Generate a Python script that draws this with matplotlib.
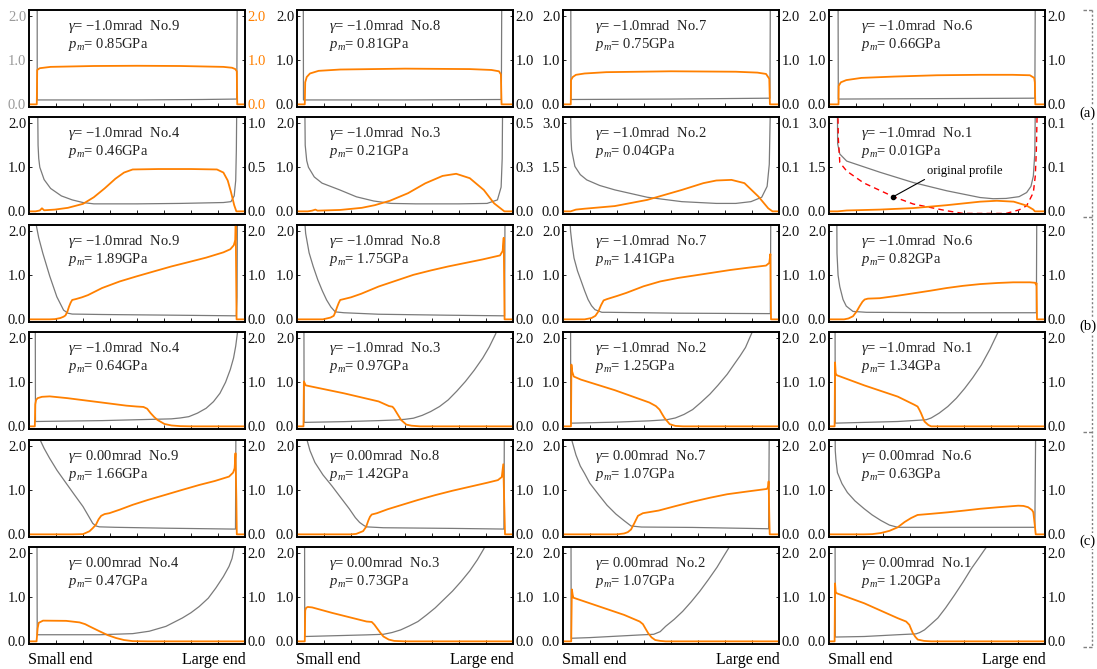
import matplotlib
matplotlib.use('Agg')
import matplotlib.pyplot as plt

plt.rcParams.update({
    'font.family': 'Liberation Serif',
    'mathtext.fontset': 'custom',
    'mathtext.rm': 'Liberation Serif',
    'mathtext.it': 'Liberation Serif:italic',
    'font.size': 10,
    'axes.linewidth': 1.2,
})
FILM = '#7a7a7a'; PRESS = '#ff8000'; ORIG = '#ff0000'

# ---- panel annotations ----
GAMMA = ['−1.0', '−1.0', '−1.0', '−1.0', '0.00', '0.00']
CASE_NO = [[9, 8, 7, 6], [4, 3, 2, 1], [9, 8, 7, 6], [4, 3, 2, 1], [9, 8, 7, 6], [4, 3, 2, 1]]
PM = [[0.85, 0.81, 0.75, 0.66],
      [0.46, 0.21, 0.04, 0.01],
      [1.89, 1.75, 1.41, 0.82],
      [0.64, 0.97, 1.25, 1.34],
      [1.66, 1.42, 1.07, 0.63],
      [0.47, 0.73, 1.07, 1.20]]

# axis maxima (left: film thickness, right: pressure)
LEFT_MAX = [[2, 2, 2, 2], [2, 2, 3, 3], [2, 2, 2, 2], [2, 2, 2, 2], [2, 2, 2, 2], [2, 2, 2, 2]]
RIGHT_MAX = [[2, 2, 2, 2], [1, 0.5, 0.1, 0.1], [2, 2, 2, 2], [2, 2, 2, 2], [2, 2, 2, 2], [2, 2, 2, 2]]
TICKS = {2: ([0, 1, 2], ['0.0', '1.0', '2.0']),
         3: ([0, 1.5, 3], ['0.0', '1.5', '3.0']),
         1: ([0, 0.5, 1], ['0.0', '0.5', '1.0']),
         0.5: ([0, 0.25, 0.5], ['0.0', '0.3', '0.5']),
         0.1: ([0, 0.05, 0.1], ['0.0', '0.1', '0.1'])}

# ---- film thickness profiles (x along contact, small end -> large end) ----
film_r1 = [
    [(0.038, 2.5), (0.038, 0.1), (0.2, 0.1), (0.5, 0.1), (0.8, 0.11), (0.962, 0.12), (0.964, 2.5)],
    [(0.029, 2.5), (0.03, 0.1), (0.5, 0.1), (0.946, 0.11), (0.948, 2.5)],
    [(0.036, 2.5), (0.037, 0.11), (0.5, 0.12), (0.958, 0.14), (0.96, 2.5)],
    [(0.042, 2.5), (0.043, 0.12), (0.5, 0.13), (0.953, 0.14), (0.955, 2.5)],
]
film_r2 = [
    [(0.04, 2.5), (0.042, 1.5), (0.045, 1.2), (0.05, 1.0), (0.07, 0.72), (0.1, 0.52), (0.15, 0.35),
     (0.2, 0.26), (0.25, 0.2), (0.3, 0.17), (0.5, 0.17), (0.7, 0.18), (0.9, 0.2), (0.935, 0.22),
     (0.95, 0.35), (0.957, 0.7), (0.96, 1.4), (0.962, 2.5)],
    [(0.036, 2.5), (0.038, 1.5), (0.045, 1.15), (0.053, 1.0), (0.08, 0.78), (0.116, 0.64),
     (0.196, 0.49), (0.275, 0.33), (0.355, 0.235), (0.435, 0.18), (0.55, 0.17), (0.75, 0.17),
     (0.88, 0.18), (0.928, 0.26), (0.945, 0.55), (0.95, 1.2), (0.952, 2.5)],
    [(0.035, 3.5), (0.037, 2.5), (0.04, 2.09), (0.055, 1.53), (0.08, 1.25), (0.11, 1.07),
     (0.17, 0.88), (0.24, 0.73), (0.39, 0.48), (0.55, 0.33), (0.71, 0.27), (0.8, 0.27),
     (0.87, 0.33), (0.92, 0.48), (0.945, 0.85), (0.955, 1.6), (0.96, 3.5)],
    [(0.039, 3.5), (0.04, 2.3), (0.05, 1.95), (0.082, 1.71), (0.236, 1.33), (0.39, 0.98),
     (0.545, 0.70), (0.70, 0.47), (0.76, 0.43), (0.82, 0.44), (0.88, 0.5), (0.915, 0.64),
     (0.935, 0.85), (0.946, 1.2), (0.953, 2.0), (0.955, 3.5)],
]
film_r3 = [
    [(0.029, 2.5), (0.035, 2.1), (0.045, 1.85), (0.064, 1.5), (0.096, 0.98), (0.129, 0.51),
     (0.16, 0.21), (0.18, 0.14), (0.2, 0.12), (0.34, 0.11), (0.66, 0.095), (0.96, 0.08),
     (0.963, 0.5), (0.965, 2.5)],
    [(0.032, 2.5), (0.04, 1.95), (0.056, 1.51), (0.075, 1.2), (0.096, 0.9), (0.117, 0.65),
     (0.137, 0.44), (0.157, 0.28), (0.177, 0.17), (0.217, 0.15), (0.378, 0.116), (0.7, 0.094),
     (0.961, 0.08), (0.963, 2.5)],
    [(0.03, 2.5), (0.035, 2.0), (0.042, 1.7), (0.051, 1.39), (0.067, 1.1), (0.084, 0.87),
     (0.1, 0.65), (0.116, 0.45), (0.132, 0.31), (0.148, 0.22), (0.18, 0.16), (0.21, 0.16),
     (0.53, 0.14), (0.96, 0.13), (0.962, 2.5)],
    [(0.036, 2.5), (0.037, 1.5), (0.042, 1.0), (0.05, 0.74), (0.065, 0.45), (0.08, 0.3),
     (0.111, 0.18), (0.173, 0.16), (0.544, 0.15), (0.96, 0.15), (0.962, 2.5)],
]
film_r4 = [
    [(0.029, 2.5), (0.03, 0.11), (0.1, 0.115), (0.338, 0.13), (0.579, 0.16), (0.659, 0.17),
     (0.7, 0.19), (0.74, 0.22), (0.78, 0.3), (0.82, 0.41), (0.854, 0.56), (0.884, 0.75),
     (0.91, 1.0), (0.932, 1.29), (0.947, 1.55), (0.957, 1.82), (0.965, 2.12), (0.97, 2.5)],
    [(0.032, 2.5), (0.033, 0.09), (0.217, 0.107), (0.378, 0.13), (0.46, 0.145), (0.5, 0.16),
     (0.539, 0.185), (0.58, 0.25), (0.619, 0.336), (0.66, 0.45), (0.7, 0.6), (0.74, 0.8),
     (0.78, 1.02), (0.82, 1.27), (0.86, 1.55), (0.89, 1.8), (0.92, 2.1), (0.93, 2.3)],
    [(0.035, 2.5), (0.036, 0.072), (0.24, 0.095), (0.4, 0.125), (0.48, 0.15), (0.52, 0.19),
     (0.56, 0.27), (0.6, 0.38), (0.638, 0.54), (0.68, 0.73), (0.717, 0.93), (0.76, 1.18),
     (0.797, 1.44), (0.82, 1.6), (0.845, 1.79), (0.876, 2.14), (0.89, 2.3)],
    [(0.028, 2.5), (0.029, 0.073), (0.163, 0.09), (0.318, 0.11), (0.42, 0.14), (0.45, 0.15),
     (0.473, 0.19), (0.51, 0.3), (0.55, 0.45), (0.59, 0.64), (0.628, 0.86), (0.665, 1.1),
     (0.705, 1.39), (0.745, 1.75), (0.783, 2.14), (0.8, 2.3)],
]
film_r5 = [
    [(0.046, 2.2), (0.07, 1.95), (0.095, 1.73), (0.13, 1.45), (0.172, 1.16), (0.21, 0.9),
     (0.25, 0.63), (0.275, 0.42), (0.295, 0.25), (0.31, 0.19), (0.326, 0.17), (0.4, 0.16),
     (0.63, 0.14), (0.94, 0.12), (0.956, 0.12), (0.958, 2.5)],
    [(0.043, 2.2), (0.06, 1.9), (0.083, 1.63), (0.12, 1.35), (0.163, 1.09), (0.2, 0.85),
     (0.242, 0.58), (0.27, 0.38), (0.29, 0.27), (0.31, 0.2), (0.322, 0.17), (0.4, 0.15),
     (0.72, 0.135), (0.958, 0.12), (0.96, 2.5)],
    [(0.037, 2.2), (0.06, 1.8), (0.08, 1.55), (0.1, 1.38), (0.124, 1.16), (0.165, 0.9),
     (0.204, 0.66), (0.245, 0.46), (0.283, 0.31), (0.315, 0.19), (0.363, 0.166), (0.6, 0.157),
     (0.952, 0.127), (0.955, 2.5)],
    [(0.028, 2.5), (0.029, 1.9), (0.032, 1.7), (0.039, 1.4), (0.06, 1.15), (0.085, 0.95),
     (0.12, 0.76), (0.163, 0.58), (0.2, 0.44), (0.24, 0.315), (0.28, 0.21), (0.318, 0.16),
     (0.473, 0.16), (0.783, 0.16), (0.953, 0.16), (0.957, 2.5)],
]
film_r6 = [
    [(0.037, 2.5), (0.038, 0.15), (0.049, 0.15), (0.326, 0.15), (0.48, 0.175), (0.557, 0.23),
     (0.634, 0.34), (0.71, 0.53), (0.75, 0.65), (0.788, 0.79), (0.83, 0.98), (0.865, 1.21),
     (0.9, 1.47), (0.926, 1.7), (0.94, 1.88), (0.95, 2.12), (0.955, 2.3)],
    [(0.035, 2.5), (0.036, 0.11), (0.322, 0.147), (0.4, 0.16), (0.44, 0.2), (0.48, 0.26),
     (0.52, 0.35), (0.56, 0.45), (0.6, 0.6), (0.64, 0.76), (0.68, 0.95), (0.72, 1.14),
     (0.76, 1.36), (0.8, 1.6), (0.835, 1.85), (0.865, 2.1), (0.88, 2.3)],
    [(0.037, 2.5), (0.038, 0.07), (0.124, 0.085), (0.363, 0.147), (0.42, 0.16), (0.45, 0.22),
     (0.475, 0.34), (0.515, 0.5), (0.554, 0.68), (0.594, 0.9), (0.634, 1.14), (0.673, 1.4),
     (0.713, 1.68), (0.74, 1.9), (0.77, 2.14), (0.78, 2.3)],
    [(0.028, 2.5), (0.029, 0.098), (0.163, 0.11), (0.318, 0.15), (0.403, 0.17), (0.42, 0.2),
     (0.442, 0.26), (0.47, 0.38), (0.504, 0.53), (0.54, 0.76), (0.581, 1.05), (0.62, 1.34),
     (0.659, 1.65), (0.695, 1.9), (0.729, 2.14), (0.74, 2.3)],
]

# ---- pressure distributions ----
press_r1 = [
    [(0, 0), (0.036, 0), (0.038, 0.78), (0.05, 0.82), (0.1, 0.85), (0.3, 0.87), (0.5, 0.875),
     (0.7, 0.87), (0.9, 0.85), (0.94, 0.83), (0.955, 0.8), (0.962, 0.75), (0.964, 0), (1, 0)],
    [(0, 0), (0.036, 0), (0.038, 0.5), (0.045, 0.62), (0.06, 0.7), (0.1, 0.76), (0.2, 0.79),
     (0.5, 0.81), (0.8, 0.8), (0.9, 0.78), (0.935, 0.75), (0.944, 0.68), (0.947, 0), (1, 0)],
    [(0, 0), (0.036, 0), (0.037, 0.55), (0.045, 0.62), (0.06, 0.67), (0.1, 0.7), (0.2, 0.73),
     (0.5, 0.75), (0.8, 0.74), (0.9, 0.72), (0.94, 0.69), (0.955, 0.58), (0.958, 0), (1, 0)],
    [(0, 0), (0.044, 0), (0.045, 0.42), (0.055, 0.5), (0.08, 0.55), (0.15, 0.6), (0.3, 0.63),
     (0.5, 0.66), (0.7, 0.67), (0.85, 0.67), (0.93, 0.66), (0.95, 0.6), (0.953, 0.5),
     (0.955, 0), (1, 0)],
]
press_r2 = [
    [(0, 0), (0.03, 0), (0.05, 0.01), (0.06, 0.035), (0.07, 0.012), (0.12, 0.02), (0.18, 0.04),
     (0.25, 0.085), (0.3, 0.16), (0.35, 0.26), (0.4, 0.37), (0.44, 0.44), (0.48, 0.475),
     (0.6, 0.48), (0.75, 0.48), (0.87, 0.475), (0.9, 0.44), (0.92, 0.35), (0.935, 0.22),
     (0.95, 0.07), (0.96, 0.0), (1, 0)],
    [(0, 0), (0.05, 0), (0.07, 0.004), (0.085, 0.01), (0.095, 0.004), (0.2, 0.008), (0.3, 0.02),
     (0.36, 0.035), (0.43, 0.06), (0.514, 0.103), (0.594, 0.159), (0.674, 0.201), (0.737, 0.213),
     (0.8, 0.188), (0.865, 0.121), (0.912, 0.046), (0.96, 0.0), (1, 0)],
    [(0, 0), (0.035, 0), (0.06, 0.002), (0.1, 0.003), (0.24, 0.006), (0.39, 0.013), (0.55, 0.0243),
     (0.65, 0.032), (0.71, 0.035), (0.78, 0.0357), (0.84, 0.032), (0.905, 0.0167), (0.95, 0.0035),
     (0.97, 0), (1, 0)],
    [(0, 0), (0.04, 0), (0.082, 0.001), (0.236, 0.002), (0.39, 0.0037), (0.545, 0.007),
     (0.70, 0.011), (0.777, 0.012), (0.855, 0.011), (0.915, 0.0065), (0.946, 0.002),
     (0.953, 0), (1, 0)],
]
press_r3 = [
    [(0, 0), (0.096, 0), (0.12, 0.005), (0.145, 0.03), (0.16, 0.06), (0.169, 0.09), (0.178, 0.18),
     (0.185, 0.285), (0.193, 0.38), (0.2, 0.44), (0.217, 0.46), (0.245, 0.5), (0.273, 0.55),
     (0.338, 0.71), (0.42, 0.86), (0.498, 0.975), (0.58, 1.09), (0.659, 1.2), (0.74, 1.3),
     (0.82, 1.4), (0.9, 1.52), (0.932, 1.59), (0.948, 1.68), (0.955, 1.8), (0.957, 2.12),
     (0.961, 0), (1, 0)],
    [(0, 0), (0.12, 0), (0.137, 0.02), (0.155, 0.04), (0.17, 0.08), (0.178, 0.17), (0.185, 0.27),
     (0.193, 0.37), (0.2, 0.44), (0.217, 0.46), (0.25, 0.5), (0.297, 0.58), (0.378, 0.745),
     (0.46, 0.88), (0.539, 1.01), (0.62, 1.11), (0.7, 1.2), (0.78, 1.28), (0.86, 1.36),
     (0.94, 1.45), (0.952, 1.55), (0.957, 1.85), (0.961, 0), (1, 0)],
    [(0, 0), (0.1, 0), (0.132, 0.03), (0.15, 0.08), (0.164, 0.18), (0.176, 0.32), (0.188, 0.43),
     (0.204, 0.46), (0.25, 0.53), (0.293, 0.6), (0.373, 0.75), (0.45, 0.86), (0.534, 0.94),
     (0.615, 1.0), (0.695, 1.06), (0.775, 1.12), (0.855, 1.17), (0.94, 1.22), (0.955, 1.28),
     (0.96, 1.48), (0.963, 0), (1, 0)],
    [(0, 0), (0.07, 0), (0.09, 0.02), (0.111, 0.07), (0.128, 0.18), (0.142, 0.3), (0.155, 0.4),
     (0.165, 0.45), (0.18, 0.47), (0.235, 0.48), (0.31, 0.53), (0.39, 0.59), (0.47, 0.65),
     (0.544, 0.71), (0.62, 0.76), (0.7, 0.8), (0.78, 0.825), (0.853, 0.84), (0.93, 0.84),
     (0.954, 0.83), (0.958, 0.79), (0.961, 0.82), (0.963, 0), (1, 0)],
]
press_r4 = [
    [(0, 0), (0.027, 0), (0.029, 0.5), (0.033, 0.6), (0.04, 0.64), (0.06, 0.67), (0.096, 0.68),
     (0.177, 0.64), (0.338, 0.54), (0.45, 0.47), (0.498, 0.45), (0.53, 0.44), (0.547, 0.4),
     (0.563, 0.3), (0.58, 0.21), (0.595, 0.145), (0.627, 0.054), (0.66, 0.02), (0.7, 0.005),
     (0.75, 0), (1, 0)],
    [(0, 0), (0.03, 0), (0.032, 1.02), (0.04, 0.93), (0.217, 0.75), (0.378, 0.565), (0.426, 0.46),
     (0.442, 0.445), (0.45, 0.4), (0.458, 0.336), (0.47, 0.24), (0.482, 0.145), (0.506, 0.04),
     (0.53, 0.015), (0.57, 0), (1, 0)],
    [(0, 0), (0.037, 0), (0.039, 1.4), (0.042, 1.25), (0.05, 1.13), (0.083, 1.06), (0.24, 0.82),
     (0.4, 0.54), (0.43, 0.46), (0.447, 0.38), (0.46, 0.27), (0.47, 0.19), (0.494, 0.05),
     (0.52, 0.01), (0.556, 0), (1, 0)],
    [(0, 0), (0.026, 0), (0.028, 1.45), (0.031, 1.2), (0.036, 1.16), (0.163, 0.93), (0.318, 0.675),
     (0.395, 0.49), (0.41, 0.45), (0.418, 0.38), (0.426, 0.3), (0.442, 0.11), (0.46, 0.03),
     (0.473, 0.0), (1, 0)],
]
press_r5 = [
    [(0, 0), (0.2, 0), (0.25, 0.005), (0.28, 0.07), (0.295, 0.14), (0.31, 0.22), (0.322, 0.34),
     (0.334, 0.42), (0.35, 0.46), (0.372, 0.48), (0.42, 0.56), (0.48, 0.67), (0.55, 0.78),
     (0.634, 0.9), (0.71, 1.01), (0.788, 1.12), (0.86, 1.21), (0.926, 1.31), (0.945, 1.4),
     (0.952, 1.5), (0.956, 1.84), (0.96, 0.8), (0.962, 0), (1, 0)],
    [(0, 0), (0.25, 0), (0.274, 0.01), (0.306, 0.073), (0.32, 0.17), (0.33, 0.31), (0.338, 0.4),
     (0.346, 0.45), (0.37, 0.48), (0.42, 0.57), (0.48, 0.66), (0.56, 0.78), (0.64, 0.89),
     (0.72, 0.99), (0.8, 1.08), (0.88, 1.17), (0.93, 1.23), (0.948, 1.3), (0.955, 1.59),
     (0.96, 0.6), (0.963, 0), (1, 0)],
    [(0, 0), (0.25, 0), (0.283, 0.02), (0.3, 0.05), (0.315, 0.11), (0.33, 0.25), (0.347, 0.42),
     (0.37, 0.48), (0.443, 0.54), (0.52, 0.64), (0.6, 0.74), (0.68, 0.83), (0.76, 0.91),
     (0.85, 0.97), (0.944, 1.03), (0.95, 1.08), (0.952, 1.2), (0.955, 0.4), (0.957, 0), (1, 0)],
    [(0, 0), (0.16, 0), (0.2, 0.005), (0.24, 0.03), (0.28, 0.08), (0.318, 0.16), (0.35, 0.28),
     (0.38, 0.37), (0.41, 0.44), (0.473, 0.466), (0.55, 0.5), (0.628, 0.54), (0.7, 0.58),
     (0.783, 0.615), (0.876, 0.65), (0.9, 0.645), (0.922, 0.615), (0.94, 0.55), (0.946, 0.5),
     (0.953, 0.2), (0.957, 0), (1, 0)],
]
press_r6 = [
    [(0, 0), (0.035, 0), (0.04, 0.3), (0.045, 0.42), (0.065, 0.47), (0.172, 0.465), (0.234, 0.43),
     (0.26, 0.39), (0.28, 0.34), (0.326, 0.23), (0.365, 0.14), (0.403, 0.076), (0.44, 0.03),
     (0.48, 0.005), (0.55, 0), (1, 0)],
    [(0, 0), (0.036, 0), (0.038, 0.7), (0.042, 0.76), (0.05, 0.78), (0.07, 0.77), (0.163, 0.645),
     (0.322, 0.45), (0.346, 0.44), (0.358, 0.38), (0.37, 0.3), (0.385, 0.2), (0.4, 0.11),
     (0.425, 0.04), (0.45, 0.01), (0.5, 0), (1, 0)],
    [(0, 0), (0.038, 0), (0.041, 1.18), (0.045, 1.05), (0.048, 0.99), (0.283, 0.6), (0.355, 0.45),
     (0.37, 0.39), (0.383, 0.28), (0.395, 0.18), (0.41, 0.09), (0.427, 0.03), (0.45, 0.01),
     (0.475, 0), (1, 0)],
    [(0, 0), (0.026, 0), (0.028, 1.315), (0.031, 1.12), (0.036, 1.09), (0.163, 0.864),
     (0.318, 0.526), (0.357, 0.45), (0.372, 0.375), (0.38, 0.28), (0.388, 0.19), (0.4, 0.1),
     (0.411, 0.04), (0.44, 0.01), (0.473, 0), (1, 0)],
]

# original (undeformed) profile for case No.1, gamma = -1.0 mrad
orig_profile = [(0.041, 3.5), (0.043, 2.5), (0.05, 1.66), (0.082, 1.37), (0.16, 0.97),
                (0.298, 0.5), (0.39, 0.25), (0.545, 0.02), (0.62, -0.07), (0.82, -0.07),
                (0.88, 0.05), (0.915, 0.19), (0.946, 0.64), (0.955, 1.2), (0.96, 2.09),
                (0.964, 3.5)]

FILMS = [film_r1, film_r2, film_r3, film_r4, film_r5, film_r6]
PRESSES = [press_r1, press_r2, press_r3, press_r4, press_r5, press_r6]

W, H = 1097, 669
COL_X = [29, 297, 563, 829]
ROW_Y = [10, 117, 225, 332, 440, 547]
PW, PH = 216, 97
TXT_X = [0.18, 0.15, 0.15, 0.15]

fig = plt.figure(figsize=(W / 100, H / 100), dpi=100)


def style_y(axis, rmax, color='black'):
    ticks, labels = TICKS[rmax]
    axis.set_ylim(-0.03 * rmax, 1.07 * rmax)
    axis.set_yticks(ticks)
    axis.set_yticklabels(labels)
    axis.tick_params(axis='y', direction='in', length=2.5, width=0.6, pad=2,
                     labelsize=10.5, labelcolor=color)


for r in range(6):
    for c in range(4):
        ax = fig.add_axes([COL_X[c] / W, 1 - (ROW_Y[r] + PH) / H, PW / W, PH / H])
        ax2 = ax.twinx()
        ax.set_xlim(0, 1)
        ax.set_xticks([i / 8 for i in range(1, 8)])
        ax.tick_params(axis='x', direction='in', length=3, width=0.6, labelbottom=False)
        lcol = '#9a9a9a' if (r, c) == (0, 0) else '#111111'
        rcol = PRESS if (r, c) == (0, 0) else '#111111'
        style_y(ax, LEFT_MAX[r][c], lcol)
        style_y(ax2, RIGHT_MAX[r][c], rcol)

        fx, fy = zip(*FILMS[r][c])
        ax.plot(fx, fy, color=FILM, lw=0.9)
        px, py = zip(*PRESSES[r][c])
        ax2.plot(px, py, color=PRESS, lw=1.3)

        if (r, c) == (1, 3):
            ox, oy = zip(*orig_profile)
            ax.plot(ox, oy, color=ORIG, lw=1.0, ls=(0, (4, 3)))
            ax.plot([0.298], [0.5], 'o', color='black', ms=3)
            ax.annotate('original profile', xy=(0.298, 0.5), xytext=(0.63, 1.37),
                        fontsize=9, ha='center', va='center',
                        arrowprops=dict(arrowstyle='-', lw=0.8, color='black',
                                        shrinkA=0, shrinkB=0, relpos=(0.05, 0.1)))

        ax.text(TXT_X[c], 0.835, r'$\gamma$= %smrad  No.%d' % (GAMMA[r], CASE_NO[r][c]),
                transform=ax.transAxes, fontsize=10.5, va='center', color='#222222')
        ax.text(TXT_X[c], 0.645, r'$p_m$= %.2fGPa' % PM[r][c],
                transform=ax.transAxes, fontsize=10.5, va='center', color='#222222')

# bottom end labels and group bracket
ov = fig.add_axes([0, 0, 1, 1])
ov.set_xlim(0, W); ov.set_ylim(H, 0); ov.axis('off')
for c in range(4):
    ov.text(COL_X[c] - 1, 660, 'Small end', fontsize=11.5, ha='left', va='center')
    ov.text(COL_X[c] + PW + 1, 660, 'Large end', fontsize=11.5, ha='right', va='center')

ov.plot([1092, 1092], [10, 647], color='#808080', lw=1, ls=(0, (1.5, 1.5)))
for yy in [10, 217, 432, 647]:
    ov.plot([1083, 1094], [yy, yy], color='#808080', lw=1, ls=(0, (2.5, 1.5)))
for lab, yy in [('(a)', 113), ('(b)', 326), ('(c)', 541)]:
    ov.text(1096, yy, lab, fontsize=10.5, ha='right', va='center',
            bbox=dict(facecolor='white', edgecolor='none', pad=1))

fig.savefig('out.png', dpi=100)
